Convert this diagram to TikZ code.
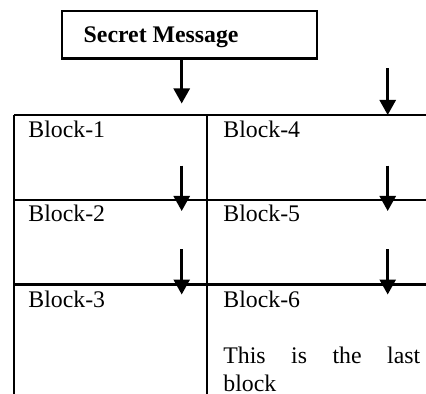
\documentclass[tikz,border=0pt]{standalone}
\usepackage{fontspec}
\setmainfont{Liberation Serif}
\usetikzlibrary{arrows.meta}

\begin{document}
\begin{tikzpicture}[
  x=0.5pt, y=-0.5pt,
  font=\fontsize{11.9}{13.7}\selectfont,
  rule/.style={line width=1.3pt},
  arr/.style={line width=1.3pt, -{Triangle[width=8pt,length=7.5pt]}},
  cell/.style={anchor=base west, inner sep=0pt},
]
\useasboundingbox (0,0) rectangle (426,394);
\clip (0,0) rectangle (426,394);

% header box
\node[draw, rule, minimum width=127.5pt, minimum height=23.75pt, inner sep=0pt]
  (msg) at (189.5,34.8) {};
\node[cell, font=\fontsize{11.9}{13.7}\selectfont\bfseries] (msgtext) at (83.3,42.3) {Secret Message};

% table grid (open at the right and at the bottom)
\coordinate (tl) at (14,115);
\coordinate (tm) at (207,115);
\draw[rule] (tl) -- (440,115);
\draw[rule] (14,200) -- (440,200);
\draw[rule] (14,284.5) -- (440,284.5);
\draw[rule] (tl) -- (14,400);
\draw[rule] (tm) -- (207,400);

% cell texts
\node[cell] (b1) at (28,138) {Block-1};
\node[cell] (b4) at (223,138) {Block-4};
\node[cell] (b2) at (28,222) {Block-2};
\node[cell] (b5) at (223,222) {Block-5};
\node[cell] (b3) at (28,307.5) {Block-3};
\node[cell] (b6) at (223,307.5) {Block-6};
\node[cell] (last1) at (223,363.3) {\makebox[98.4pt][s]{This is the last}};
\node[cell] (last2) at (223,391) {block};

% arrow end points
\coordinate (a1tip) at (181.7,103.5);
\coordinate (a2top) at (387.7,68.3);
\coordinate (a2tip) at (387.7,115);
\coordinate (l1top) at (181.7,165.7);
\coordinate (l1tip) at (181.7,211);
\coordinate (r1top) at (387.7,165.7);
\coordinate (r1tip) at (387.7,211);
\coordinate (l2top) at (181.7,249.3);
\coordinate (l2tip) at (181.7,294.5);
\coordinate (r2top) at (387.7,249.3);
\coordinate (r2tip) at (387.7,294.5);

% arrows
\draw[arr] (msg.south -| a1tip) -- (a1tip);
\draw[arr] (a2top) -- (a2tip);
\draw[arr] (l1top) -- (l1tip);
\draw[arr] (r1top) -- (r1tip);
\draw[arr] (l2top) -- (l2tip);
\draw[arr] (r2top) -- (r2tip);
\end{tikzpicture}
\end{document}
